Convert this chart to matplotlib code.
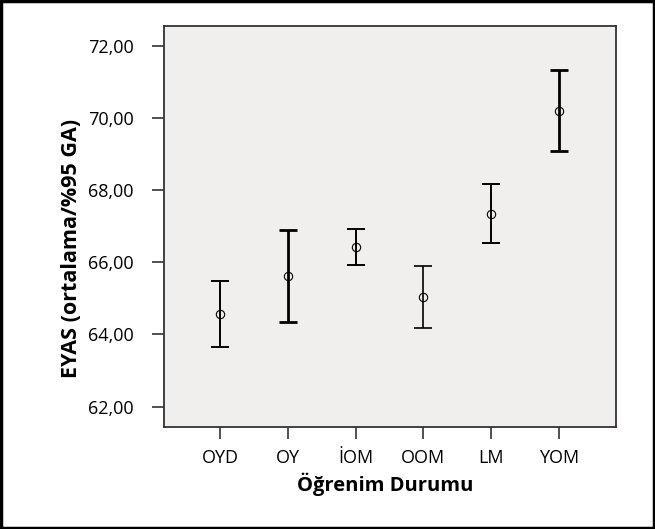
import matplotlib.pyplot as plt
from matplotlib.patches import Rectangle

plt.rcParams['font.family'] = ['Open Sans', 'DejaVu Sans']

categories = ['OYD', 'OY', 'İOM', 'OOM', 'LM', 'YOM']
means = [64.56, 65.62, 66.44, 65.04, 67.35, 70.21]
upper = [65.47, 66.89, 66.94, 65.89, 68.18, 71.33]
lower = [63.64, 64.35, 65.94, 64.19, 66.53, 69.09]
bar_widths = [1.4, 2.0, 1.4, 1.2, 1.4, 2.0]
y_ticks = [62, 64, 66, 68, 70, 72]

fig = plt.figure(figsize=(6.55, 5.29), dpi=100)
ax = fig.add_axes([163.5 / 655, 1 - 426.7 / 529, (615.7 - 163.5) / 655, (426.7 - 26) / 529])
ax.set_facecolor('#f0efed')

x = list(range(len(categories)))
for xi, m, hi, lo, lw in zip(x, means, upper, lower, bar_widths):
    ax.errorbar([xi], [m], yerr=[[m - lo], [hi - m]], fmt='none',
                ecolor='black', elinewidth=lw, capsize=6.2, capthick=lw)
ax.plot(x, means, 'o', mfc='none', mec='black', ms=6, mew=0.8, ls='none')

ax.set_xlim(-0.833, 5.836)
ax.set_ylim(61.44, 72.56)
ax.set_xticks(x)
ax.set_xticklabels(categories, fontsize=13)
ax.set_yticks(y_ticks)
ax.set_yticklabels([f'{v:.2f}'.replace('.', ',') for v in y_ticks], fontsize=13)
ax.tick_params(axis='both', length=8.6, width=1.2, color='#333333')
ax.tick_params(axis='x', pad=7.5)
ax.tick_params(axis='y', pad=13)
for s in ax.spines.values():
    s.set_color('#333333')
    s.set_linewidth(1.3)

ax.set_xlabel('Öğrenim Durumu', fontsize=14.5, fontweight='bold')
ax.set_ylabel('EYAS (ortalama/%95 GA)', fontsize=15.5, fontweight='bold')
ax.xaxis.set_label_coords(0.49, -0.114)
ax.yaxis.set_label_coords(-0.181, 0.446)

fig.patches.append(Rectangle((0.002, 0.002), 0.996, 0.996, transform=fig.transFigure,
                             fill=False, edgecolor='black', linewidth=2.5))

fig.savefig('out.png', dpi=100)
